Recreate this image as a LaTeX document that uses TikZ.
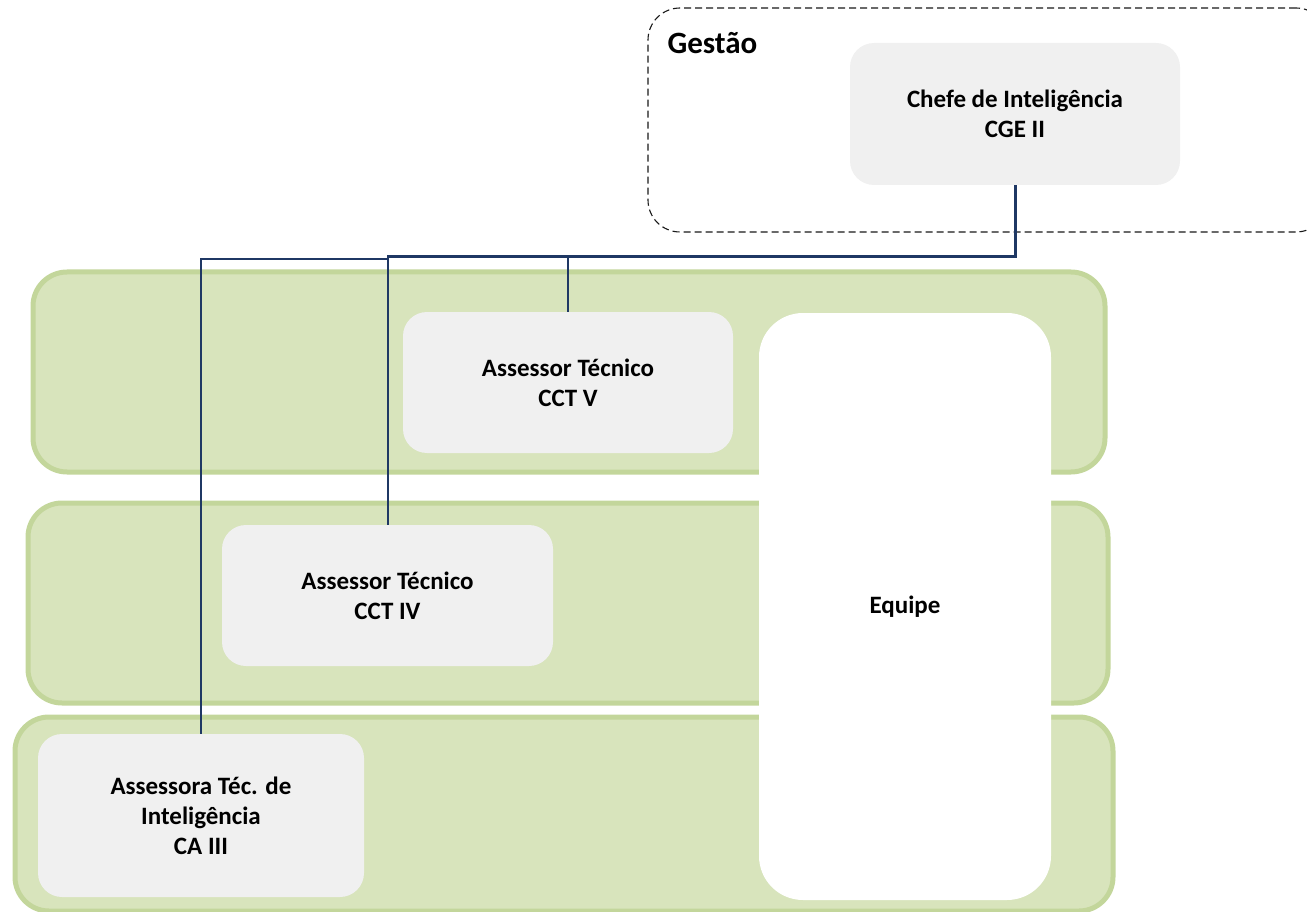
\documentclass[tikz,border=0pt]{standalone}
\usepackage{fontspec}
\setmainfont{Carlito}
\begin{document}
\begin{tikzpicture}[x=1pt,y=-1pt,
  band/.style={draw=bandline,fill=bandfill,line width=5pt,rounded corners=34pt,inner sep=0pt},
  posbox/.style={fill=boxfill,rounded corners=24pt,inner sep=0pt,align=center,font=\fontsize{25}{30}\selectfont\bfseries},
  grp/.style={draw=black!90,dash pattern=on 7pt off 4pt,line width=1.1pt,rounded corners=32pt,inner sep=0pt},
  thickl/.style={draw=navy,line width=3pt},
  thinl/.style={draw=navy,line width=2pt}]
\definecolor{bandfill}{HTML}{D8E4BC}
\definecolor{bandline}{HTML}{C3D69B}
\definecolor{boxfill}{HTML}{F0F0F0}
\definecolor{navy}{HTML}{1F3864}
\useasboundingbox (0,0) rectangle (1307,912);
% group
\node[grp,minimum width=680pt,minimum height=224pt] (gestao) at (988,120) {};
\node[anchor=west,font=\fontsize{31}{36}\selectfont\bfseries] (gtitle) at (664,43) {Gestão};
% bands
\node[band,minimum width=1072pt,minimum height=200pt] (b1) at (569,372) {};
\node[band,minimum width=1080pt,minimum height=200pt] (b2) at (568,603) {};
\node[band,minimum width=1098pt,minimum height=194pt] (b3) at (564,814) {};
% boxes
\node[posbox,minimum width=330pt,minimum height=142pt] (chef) at (1015,114) {Chefe de Inteligência\\CGE II};
\node[posbox,minimum width=330pt,minimum height=141pt] (cctv) at (568,382.5) {Assessor Técnico\\CCT V};
\node[posbox,minimum width=331pt,minimum height=141pt] (cctiv) at (387.5,595.5) {Assessor Técnico\\CCT IV};
\node[posbox,minimum width=326pt,minimum height=163pt] (ca) at (201,815.5) {Assessora Téc. de\\Inteligência\\CA III};
\node[fill=white,rounded corners=44pt,inner sep=0pt,minimum width=292pt,minimum height=587pt,font=\fontsize{25}{30}\selectfont\bfseries] (equipe) at (905,606.5) {Equipe};
% connectors
\coordinate (j2) at (cctiv.north |- 0,257);
\coordinate (jv) at (cctv.north |- 0,257);
\coordinate (j3) at (ca.north |- 0,259.5);
\draw[thickl] (chef.south) |- ([xshift=-1pt]j2);
\draw[thinl] (jv) -- (cctv.north);
\draw[thinl] (j2) -- (cctiv.north);
\draw[thinl] (j2 |- j3) -- (j3) -- (ca.north);
\end{tikzpicture}
\end{document}
